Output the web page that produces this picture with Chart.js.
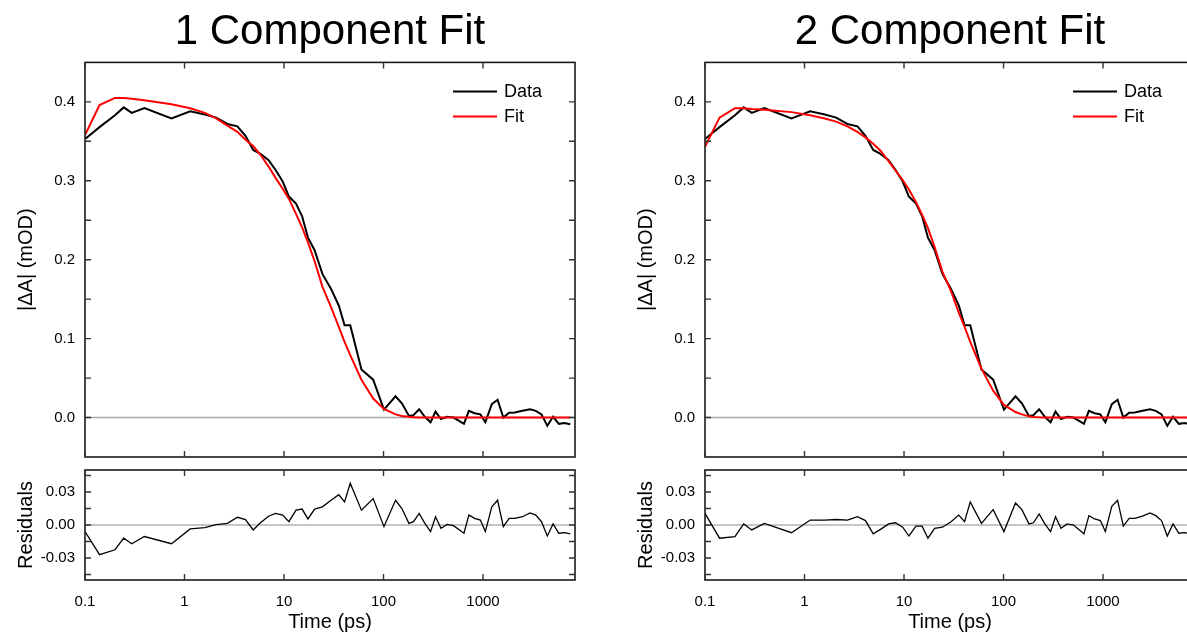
<!DOCTYPE html>
<html>
<head>
<meta charset="utf-8">
<title>1 vs 2 component fit</title>
<script src="https://cdn.jsdelivr.net/npm/chart.js"></script>
<style>
  html, body { margin: 0; padding: 0; background: #fff; overflow: hidden; }
  body { width: 1187px; height: 634px; position: relative; }
  canvas { position: absolute; }
</style>
</head>
<body>
<canvas id="fit1" width="660" height="465" style="left:0px;top:0px"></canvas>
<canvas id="res1" width="660" height="169" style="left:0px;top:465px"></canvas>
<canvas id="fit2" width="660" height="465" style="left:620px;top:0px"></canvas>
<canvas id="res2" width="660" height="169" style="left:620px;top:465px"></canvas>
<script>
// delay times (ps), shared by both fits
const time = [0.1, 0.14, 0.2, 0.245, 0.295, 0.395, 0.74, 1.14, 1.6, 2.08, 2.7, 3.4,
    4.1, 4.9, 5.8, 7.0, 8.2, 9.7, 11.2, 13.2, 15.2, 17.4, 20.3, 24.3,
    29.7, 35.5, 40.6, 46.3, 60, 78.7, 101, 132, 153, 180, 200, 228,
    260, 297, 333, 378, 435, 505, 643, 721, 823, 940, 1055, 1225,
    1400, 1600, 1830, 2085, 2490, 2970, 3390, 3870, 4425, 5055, 5780, 6600,
    7535];

// |dA| trace (mOD)
const signal = [0.353, 0.368, 0.383, 0.393, 0.386, 0.392, 0.379, 0.388, 0.384, 0.380, 0.372, 0.369,
    0.357, 0.339, 0.334, 0.326, 0.314, 0.299, 0.280, 0.271, 0.255, 0.228, 0.212, 0.182,
    0.163, 0.142, 0.117, 0.117, 0.061, 0.048, 0.010, 0.027, 0.018, 0.002, 0.003, 0.0105,
    0.001, -0.006, 0.0076, -0.002, 0.001, 0.000, -0.008, 0.0085, 0.0055, 0.004, -0.006, 0.017,
    0.0225, 0.000, 0.006, 0.0065, 0.0085, 0.0105, 0.0085, 0.004, -0.0105, 0.001, -0.008, -0.007,
    -0.0085];

// one component fit
const fit1 = [0.358, 0.396, 0.405, 0.405, 0.404, 0.402, 0.397, 0.392, 0.386, 0.379, 0.370, 0.362,
    0.352, 0.344, 0.333, 0.318, 0.304, 0.290, 0.277, 0.258, 0.241, 0.222, 0.198, 0.166,
    0.140, 0.115, 0.096, 0.079, 0.048, 0.024, 0.011, 0.004, 0.002, 0.001, 0.0005, 0,
    0, 0, 0, 0, 0, 0, 0, 0, 0, 0, 0, 0,
    0, 0, 0, 0, 0, 0, 0, 0, 0, 0, 0, 0,
    0];

// two component fit
const fit2 = [0.343, 0.380, 0.392, 0.392, 0.391, 0.390, 0.387, 0.383, 0.379, 0.375, 0.369, 0.362,
    0.355, 0.347, 0.338, 0.325, 0.313, 0.301, 0.289, 0.273, 0.257, 0.240, 0.216, 0.185,
    0.160, 0.133, 0.115, 0.096, 0.062, 0.034, 0.016, 0.007, 0.004, 0.0015, 0.0008, 0.0003,
    0, 0, 0, 0, 0, 0, 0, 0, 0, 0, 0, 0,
    0, 0, 0, 0, 0, 0, 0, 0, 0, 0, 0, 0,
    0];

const resid1 = [-0.006, -0.027, -0.0225, -0.012, -0.017, -0.0105, -0.017, -0.0036, -0.0024, 0.0003, 0.0015, 0.007,
    0.005, -0.0045, 0.002, 0.008, 0.0105, 0.009, 0.003, 0.0135, 0.0145, 0.0055, 0.0145, 0.0165,
    0.0225, 0.0275, 0.021, 0.038, 0.0135, 0.024, -0.0015, 0.0225, 0.015, 0.0015, 0.003, 0.0105,
    0.0015, -0.006, 0.0075, -0.003, 0.0006, -0.0006, -0.0075, 0.009, 0.006, 0.0045, -0.006, 0.0165,
    0.0225, -0.0015, 0.006, 0.006, 0.0075, 0.011, 0.009, 0.003, -0.01, 0.001, -0.0075, -0.007,
    -0.008];

const resid2 = [0.0105, -0.012, -0.0105, 0.001, -0.0045, 0.0015, -0.007, 0.0045, 0.0045, 0.005, 0.0045, 0.0075,
    0.004, -0.008, -0.004, 0.001, 0.002, -0.002, -0.01, -0.001, -0.001, -0.012, -0.003, -0.002,
    0.003, 0.009, 0.003, 0.021, 0.0015, 0.014, -0.006, 0.020, 0.014, 0.001, 0.002, 0.010,
    0.001, -0.006, 0.0075, -0.003, 0.001, 0.000, -0.008, 0.0085, 0.0055, 0.004, -0.006, 0.017,
    0.0225, -0.001, 0.006, 0.006, 0.008, 0.011, 0.0085, 0.004, -0.01, 0.001, -0.0075, -0.007,
    -0.008];

const xTicks = [0.1, 1, 10, 100, 1000];
const xTickLabels = ['0.1', '1', '10', '100', '1000'];
const mainYTicks = [0, 0.05, 0.1, 0.15, 0.2, 0.25, 0.3, 0.35, 0.4];
const resYTicks = [-0.045, -0.03, -0.015, 0, 0.015, 0.03, 0.045];

Chart.defaults.font.family = "'Liberation Sans', Arial, sans-serif";
Chart.defaults.color = '#000';

function pts(values) {
    return time.map(function(t, i) { return {x: t, y: values[i]}; });
}

// box round the plot, inward ticks on all four sides, zero line, small legend
const framePlugin = {
    id: 'frame',
    beforeDatasetsDraw(chart, args, opts) {
        const ctx = chart.ctx, a = chart.chartArea;
        const y0 = chart.scales.y.getPixelForValue(0);
        ctx.save();
        ctx.strokeStyle = opts.zeroColor;
        ctx.lineWidth = opts.zeroWidth;
        ctx.beginPath();
        ctx.moveTo(a.left, y0);
        ctx.lineTo(a.right, y0);
        ctx.stroke();
        ctx.restore();
    },
    afterDraw(chart, args, opts) {
        const ctx = chart.ctx, a = chart.chartArea;
        const sx = chart.scales.x, sy = chart.scales.y;
        ctx.save();
        ctx.strokeStyle = '#1a1a1a';
        ctx.lineWidth = 1.6;
        ctx.strokeRect(a.left, a.top, a.right - a.left, a.bottom - a.top);
        ctx.strokeStyle = '#333';
        ctx.lineWidth = 1.4;
        ctx.beginPath();
        sx.ticks.forEach(function(t) {
            const px = sx.getPixelForValue(t.value);
            ctx.moveTo(px, a.top); ctx.lineTo(px, a.top + 6);
            ctx.moveTo(px, a.bottom); ctx.lineTo(px, a.bottom - 6);
        });
        sy.ticks.forEach(function(t) {
            const py = sy.getPixelForValue(t.value);
            ctx.moveTo(a.left, py); ctx.lineTo(a.left + 6, py);
            ctx.moveTo(a.right, py); ctx.lineTo(a.right - 6, py);
        });
        ctx.stroke();

        if (opts.legend) {
            ctx.font = "18px 'Liberation Sans', Arial, sans-serif";
            ctx.textBaseline = 'middle';
            ctx.fillStyle = '#000';
            chart.data.datasets.forEach(function(ds, i) {
                const y = a.top + 29 + i * 25;
                ctx.strokeStyle = ds.borderColor;
                ctx.lineWidth = 2;
                ctx.beginPath();
                ctx.moveTo(a.left + 368, y);
                ctx.lineTo(a.left + 412, y);
                ctx.stroke();
                ctx.fillText(ds.label, a.left + 419, y + 1);
            });
        }
        ctx.restore();
    }
};

function fixY(s) {
    s.width = 85;
    s.paddingTop = 0;
    s.paddingBottom = 0;
}

function xAxis(showLabels) {
    return {
        type: 'logarithmic',
        min: 0.1,
        max: 8400,
        afterBuildTicks: function(s) { s.ticks = xTicks.map(function(v) { return {value: v}; }); },
        grid: {display: false, drawTicks: false},
        border: {display: false},
        ticks: {
            display: showLabels,
            padding: 13,
            autoSkip: false,
            maxRotation: 0,
            font: {size: 15},
            callback: function(v, i) { return xTickLabels[i]; }
        },
        title: {
            display: showLabels,
            text: 'Time (ps)',
            font: {size: 20},
            padding: {top: 0, bottom: 0}
        },
        afterFit: function(s) {
            s.height = showLabels ? 54 : 0;
            s.paddingLeft = 0;
            s.paddingRight = 0;
        }
    };
}

function makeMain(id, title, fitValues) {
    return new Chart(document.getElementById(id), {
        type: 'line',
        data: {
            datasets: [
                {label: 'Data', data: pts(signal), borderColor: '#000', borderWidth: 2,
                 pointRadius: 0, tension: 0, order: 1},
                {label: 'Fit', data: pts(fitValues), borderColor: '#ff0000', borderWidth: 2,
                 pointRadius: 0, tension: 0, order: 0}
            ]
        },
        options: {
            responsive: false,
            animation: false,
            devicePixelRatio: 1,
            layout: {padding: {left: 0, right: 85, top: 0, bottom: 8}},
            plugins: {
                legend: {display: false},
                tooltip: {enabled: false},
                title: {
                    display: true,
                    fullSize: false,
                    text: title,
                    color: '#000',
                    font: {size: 42, weight: 'normal'},
                    padding: {top: 7, bottom: 5}
                },
                frame: {legend: true, zeroColor: '#a6a6a6', zeroWidth: 1.5}
            },
            scales: {
                x: xAxis(false),
                y: {
                    min: -0.05,
                    max: 0.45,
                    afterBuildTicks: function(s) { s.ticks = mainYTicks.map(function(v) { return {value: v}; }); },
                    grid: {display: false, drawTicks: false},
                    border: {display: false},
                    ticks: {
                        padding: 10,
                        autoSkip: false,
                        font: {size: 15},
                        callback: function(v) {
                            const r = Math.round(v * 100);
                            return r % 10 === 0 ? (r / 100).toFixed(1) : '';
                        }
                    },
                    title: {display: true, text: '|ΔA| (mOD)', font: {size: 20}, padding: {top: 14, bottom: 0}},
                    afterFit: fixY
                }
            }
        },
        plugins: [framePlugin]
    });
}

function makeResid(id, values) {
    return new Chart(document.getElementById(id), {
        type: 'line',
        data: {
            datasets: [
                {label: 'Residuals', data: pts(values), borderColor: '#000', borderWidth: 1.3,
                 pointRadius: 0, tension: 0}
            ]
        },
        options: {
            responsive: false,
            animation: false,
            devicePixelRatio: 1,
            layout: {padding: {left: 0, right: 85, top: 5, bottom: 0}},
            plugins: {
                legend: {display: false},
                tooltip: {enabled: false},
                frame: {legend: false, zeroColor: '#8c8c8c', zeroWidth: 1}
            },
            scales: {
                x: xAxis(true),
                y: {
                    min: -0.05,
                    max: 0.05,
                    afterBuildTicks: function(s) { s.ticks = resYTicks.map(function(v) { return {value: v}; }); },
                    grid: {display: false, drawTicks: false},
                    border: {display: false},
                    ticks: {
                        padding: 10,
                        autoSkip: false,
                        font: {size: 15},
                        callback: function(v) {
                            const r = Math.round(v * 1000);
                            return r % 30 === 0 ? (r / 1000).toFixed(2) : '';
                        }
                    },
                    title: {display: true, text: 'Residuals', font: {size: 20}, padding: {top: 14, bottom: 0}},
                    afterFit: fixY
                }
            }
        },
        plugins: [framePlugin]
    });
}

makeMain('fit1', '1 Component Fit', fit1);
makeResid('res1', resid1);
makeMain('fit2', '2 Component Fit', fit2);
makeResid('res2', resid2);
</script>
</body>
</html>
